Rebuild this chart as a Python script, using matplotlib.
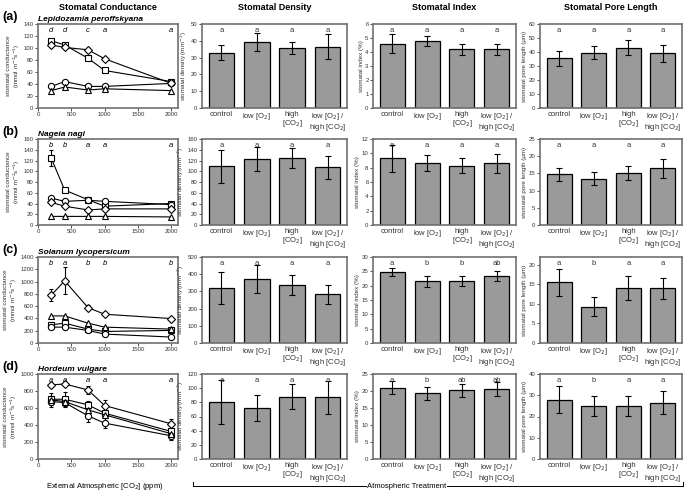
import numpy as np
import matplotlib
matplotlib.use("Agg")
from matplotlib import pyplot as plt

# CO2 levels (ppm) for the conductance panels
co2 = [200, 400, 750, 1000, 2000]

# stomatal conductance: square, circle, diamond, triangle series
gs_a = {
    's': [112, 105, 83, 62.5, 44],
    'o': [36, 44, 36, 36, 41],
    'D': [105, 101, 97, 82, 41],
    '^': [29, 35, 30, 32, 29],
}
gs_b = {
    's': [124, 65, 47, 35, 40],
    'o': [50, 44, 46, 44, 38],
    'D': [42, 35, 28, 30, 30],
    '^': [16, 16, 16, 16, 15],
}
gs_c = {
    's': [296, 323, 226, 188, 205],
    'o': [258, 258, 205, 145, 97],
    'D': [780, 1012, 576, 468, 398],
    '^': [441, 441, 323, 258, 226],
}
gs_d = {
    's': [703, 703, 637, 539, 324],
    'o': [676, 664, 508, 422, 273],
    'D': [871, 883, 812, 629, 414],
    '^': [695, 676, 578, 520, 297],
}
gs_err_b = {'s': [15, 0, 0, 0, 0]}
gs_err_c = {'D': [100, 220, 35, 20, 15]}
gs_err_d = {'s': [70, 90, 50, 40, 40], 'o': [60, 40, 70, 60, 50], 'D': [20, 20, 50, 60, 60]}
gs_letters = [list('ddcaa'), list('bbaaa'), list('babbb'), list('aaaaa')]
species = ['Lepidozamia peroffskyana', 'Nageia nagi', 'Solanum lycopersicum', 'Hordeum vulgare']
gs_ylims = [(140, 20), (160, 20), (1400, 200), (1000, 200)]

treatments = ['control', 'low [O$_2$]', 'high\n[CO$_2$]', 'low [O$_2$] /\nhigh [CO$_2$]']

density = [[33, 39.5, 35.5, 36.5], [109, 123, 125, 107], [317, 372, 338, 282], [80, 72, 88, 87]]
density_err = [[4.3, 5.3, 3.5, 7.6], [31, 23, 19, 22], [93, 80, 58, 53], [31, 19, 18, 23]]
density_let = [list('aaaa'), list('aaaa'), list('aaaa'), list('aaaa')]
density_ylim = [(50, 10), (160, 20), (500, 100), (120, 20)]

index = [[4.6, 4.8, 4.2, 4.2], [9.3, 8.6, 8.3, 8.6], [24.7, 21.5, 21.6, 23.3], [21, 19.3, 20.2, 20.5]]
index_err = [[0.7, 0.35, 0.4, 0.4], [1.9, 1.1, 1.1, 1.3], [1.4, 1.9, 1.6, 1.8], [2, 1.8, 1.9, 2.1]]
index_let = [list('aaaa'), list('aaaa'), ['a', 'b', 'b', 'ab'], ['a', 'b', 'ab', 'ab']]
index_ylim = [(6, 1), (12, 2), (30, 5), (25, 5)]

pore = [[35.5, 39.5, 43, 39], [14.8, 13.5, 15.1, 16.5], [15.5, 9.3, 14.1, 14.0], [28, 25, 25, 26.5]]
pore_err = [[5.5, 4.5, 5.5, 6], [1.9, 2.0, 2.1, 2.7], [3.5, 2.5, 3.0, 2.7], [6.3, 4.7, 4.7, 5.5]]
pore_let = [list('aaaa'), list('aaaa'), list('abaa'), list('abaa')]
pore_ylim = [(60, 10), (25, 5), (22, 5), (40, 10)]

plt.rcParams['font.family'] = 'Liberation Sans'
fig = plt.figure(figsize=(6.85, 4.93), dpi=100)

W, H = 685, 493
cols = [(38, 140), (202, 145), (373, 143), (540, 142)]
rows = [(24, 108), (139, 225), (257, 343), (374, 459)]
frame_col = '#707070'


def add_ax(c, r):
    x0, w = cols[c]
    t, b = rows[r]
    return fig.add_axes([x0 / W, 1 - b / H, w / W, (b - t) / H])


def style(ax):
    for s in ax.spines.values():
        s.set_color(frame_col)
        s.set_linewidth(1.2)
    ax.tick_params(labelsize=4.3, length=2, width=0.6, pad=1.2, colors='#333333')


gs_all = [gs_a, gs_b, gs_c, gs_d]
gs_err = [{}, gs_err_b, gs_err_c, gs_err_d]
for r in range(4):
    ax = add_ax(0, r)
    for m, vals in gs_all[r].items():
        err = gs_err[r].get(m)
        ax.errorbar(co2, vals, yerr=err, marker=m, ms=4.5 if m != 'D' else 4, mfc='white', mec='black',
                    mew=0.8, color='black', lw=0.8, ecolor='black', elinewidth=0.8, capsize=1.5)
    top, step = gs_ylims[r]
    ax.set_ylim(0, top)
    ax.set_yticks(np.arange(0, top + 1, step))
    ax.set_xlim(0, 2100)
    ax.set_xticks([0, 500, 1000, 1500, 2000])
    style(ax)
    for xv, l in zip(co2, gs_letters[r]):
        ax.text(xv, top * 0.97, l, ha='center', va='top', fontsize=5.5, style='italic')
    ax.set_ylabel('stomatal conductance\n(mmol m$^{-2}$s$^{-1}$)', fontsize=4.5, labelpad=1,
                  color='#333333', linespacing=1.1)
    ax.text(0.0, 1.015, species[r], transform=ax.transAxes, fontsize=6, style='italic',
            weight='bold', ha='left', va='bottom')
    fig.text(2 / W, 1 - (rows[r][0] - 7) / H, '(%s)' % 'abcd'[r], fontsize=9, weight='bold',
             ha='left', va='center')

bar_sets = [
    (density, density_err, density_let, density_ylim, 'stomatal density (mm$^{-2}$)'),
    (index, index_err, index_let, index_ylim, 'stomatal index (%)'),
    (pore, pore_err, pore_let, pore_ylim, 'stomatal pore length (\u00b5m)'),
]
xpos = np.arange(4)
for c, (vals, errs, lets, ylims, ylab) in enumerate(bar_sets, start=1):
    for r in range(4):
        ax = add_ax(c, r)
        ax.bar(xpos, vals[r], width=0.72, color='#9a9a9a', edgecolor='black', linewidth=0.9,
               yerr=errs[r], error_kw=dict(elinewidth=0.8, capsize=2, capthick=0.8, ecolor='black'))
        top, step = ylims[r]
        ax.set_ylim(0, top)
        ax.set_yticks(np.arange(0, top + 0.01, step))
        ax.set_xlim(-0.55, 3.55)
        ax.set_xticks(xpos)
        ax.set_xticklabels(treatments, fontsize=5.5, linespacing=1.0)
        style(ax)
        ax.tick_params(axis='x', length=0, labelsize=5.5, pad=2)
        for xv, l in zip(xpos, lets[r]):
            ax.text(xv, top * 0.97, l, ha='center', va='top', fontsize=5.5, color='#333333')
        ax.set_ylabel(ylab, fontsize=4.5, labelpad=1, color='#333333')

titles = ['Stomatal Conductance', 'Stomatal Density', 'Stomatal Index', 'Stomatal Pore Length']
for (x0, w), t in zip(cols, titles):
    fig.text((x0 + w / 2) / W, 1 - 8 / H, t, fontsize=6.5, weight='bold', ha='center', va='center')

fig.text(105 / W, 1 - 486 / H, 'External Atmospheric [CO$_2$] (ppm)', fontsize=5.5,
         ha='center', va='center')
fig.text(407 / W, 1 - 486 / H, 'Atmospheric Treatment', fontsize=5.5, ha='center', va='center',
         bbox=dict(facecolor='white', edgecolor='none', pad=0.5), zorder=3)
line_y = 1 - 486 / H
fig.add_artist(plt.Line2D([193 / W, 193 / W, 683 / W, 683 / W],
                          [line_y + 4 / H, line_y, line_y, line_y + 4 / H],
                          color='black', lw=0.7, zorder=2))

fig.savefig('out.png', dpi=100)
